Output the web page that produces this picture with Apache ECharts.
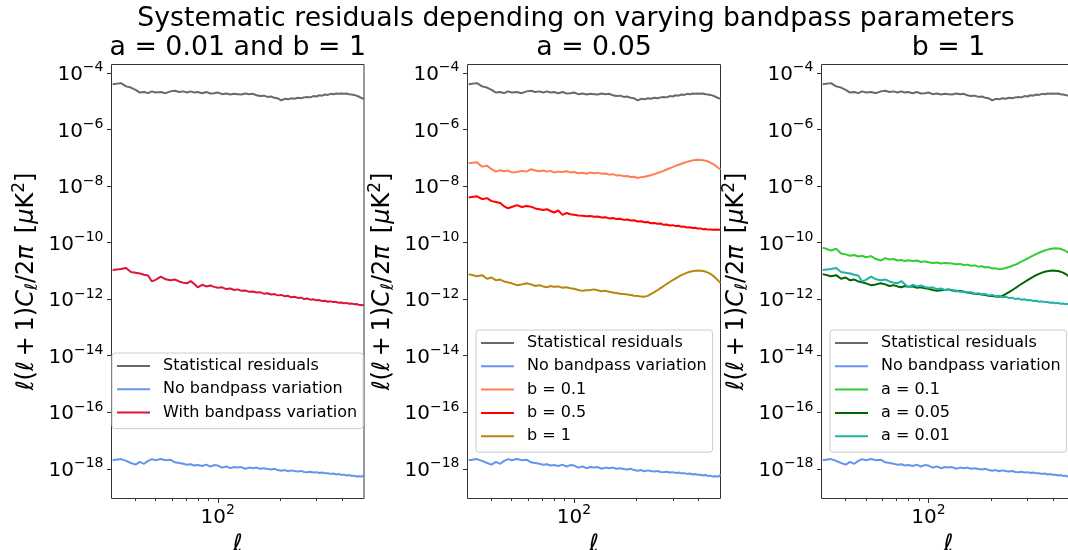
<!DOCTYPE html>
<html>
<head>
<meta charset="utf-8">
<script src="https://cdn.jsdelivr.net/npm/echarts@6/dist/echarts.min.js"></script>
<style>
html,body{margin:0;padding:0;background:#fff;}
#c{width:1068px;height:550px;}
</style>
</head>
<body>
<div id="c"></div>
<script>
// multipole values
const ELL = [31,34,36,38,40,42,44,46,48,50,53,56,59,62,65,68,71,74,77,80,84,88,92,96,100,105,110,115,120,125,130,136,142,148,154,160,167,174,181,188,195,203,211,219,227,235,244,253,262,271,280,290,300,310,320,330,341,352,363,374,385,396,408,420,432,444,456,468,480,490,500,510];

const STAT = [3.9e-5,4.3e-5,3.3e-5,3.0e-5,2.5e-5,2.0e-5,2.1e-5,1.9e-5,2.2e-5,2.0e-5,
2.1e-5,1.9e-5,2.2e-5,2.3e-5,2.1e-5,2.2e-5,2.0e-5,2.2e-5,2.0e-5,2.1e-5,
1.9e-5,2.1e-5,1.85e-5,1.9e-5,2.0e-5,
1.75e-5,1.85e-5,1.7e-5,1.8e-5,1.75e-5,1.7e-5,
1.85e-5,1.75e-5,1.8e-5,1.6e-5,1.5e-5,
1.55e-5,1.4e-5,1.45e-5,1.3e-5,1.25e-5,
1.05e-5,1.2e-5,1.15e-5,1.25e-5,1.2e-5,
1.3e-5,1.25e-5,1.35e-5,1.4e-5,1.35e-5,
1.5e-5,1.45e-5,1.6e-5,1.55e-5,1.7e-5,
1.65e-5,1.8e-5,1.75e-5,1.85e-5,1.8e-5,1.85e-5,
1.8e-5,1.85e-5,1.75e-5,1.7e-5,1.65e-5,1.55e-5,1.45e-5,
1.35e-5,1.25e-5,1.2e-5];

const NOBP = [2.0e-18,2.2e-18,1.9e-18,1.6e-18,1.4e-18,1.75e-18,1.5e-18,1.9e-18,2.2e-18,2.0e-18,
2.2e-18,2.0e-18,2.1e-18,1.7e-18,1.6e-18,1.5e-18,1.4e-18,1.45e-18,1.3e-18,1.35e-18,
1.25e-18,1.4e-18,1.2e-18,1.35e-18,1.3e-18,
1.1e-18,1.2e-18,1.05e-18,1.15e-18,1.1e-18,1.15e-18,
1.0e-18,1.1e-18,1.05e-18,1.1e-18,1.0e-18,
1.05e-18,9.8e-19,9.5e-19,1.0e-18,9.0e-19,
8.5e-19,9.0e-19,8.2e-19,8.8e-19,8.3e-19,
8.0e-19,8.4e-19,7.7e-19,7.6e-19,7.9e-19,
7.4e-19,7.6e-19,7.1e-19,7.4e-19,6.9e-19,
7.0e-19,6.6e-19,6.8e-19,6.3e-19,6.5e-19,6.1e-19,
6.2e-19,5.8e-19,6.0e-19,5.6e-19,5.7e-19,5.3e-19,5.4e-19,
5.1e-19,5.3e-19,6.2e-19];

// a = 0.01, b = 1
const A001_B1 = [1.07e-11,1.15e-11,1.25e-11,9.0e-12,8.5e-12,8.0e-12,7.2e-12,6.8e-12,4.2e-12,4.8e-12,
6.2e-12,5.0e-12,4.6e-12,4.9e-12,4.2e-12,3.8e-12,3.6e-12,4.3e-12,3.4e-12,2.6e-12,
3.2e-12,2.8e-12,3.0e-12,2.7e-12,2.5e-12,
2.6e-12,2.25e-12,2.35e-12,2.1e-12,2.2e-12,1.95e-12,
2.0e-12,1.8e-12,1.85e-12,1.7e-12,1.75e-12,
1.55e-12,1.6e-12,1.45e-12,1.5e-12,1.35e-12,
1.4e-12,1.25e-12,1.3e-12,1.15e-12,1.2e-12,
1.1e-12,1.12e-12,1.0e-12,1.05e-12,9.5e-13,
9.8e-13,9.0e-13,9.2e-13,8.5e-13,8.7e-13,
8.0e-13,8.3e-13,7.8e-13,7.9e-13,7.4e-13,7.6e-13,
7.1e-13,7.3e-13,6.8e-13,7.0e-13,6.6e-13,6.7e-13,6.3e-13,
6.5e-13,6.1e-13,6.3e-13];

// a = 0.05, b = 1
const A005_B1 = [7.6e-12,6.4e-12,7.0e-12,5.2e-12,5.8e-12,4.6e-12,4.9e-12,4.2e-12,3.9e-12,3.6e-12,
3.1e-12,3.3e-12,3.6e-12,3.3e-12,2.9e-12,3.1e-12,2.8e-12,2.6e-12,2.9e-12,2.7e-12,
2.8e-12,2.5e-12,2.6e-12,2.4e-12,2.3e-12,
2.1e-12,1.95e-12,2.05e-12,2.1e-12,2.2e-12,2.05e-12,
1.9e-12,1.95e-12,1.8e-12,1.7e-12,1.65e-12,
1.55e-12,1.5e-12,1.45e-12,1.4e-12,1.32e-12,
1.28e-12,1.22e-12,1.2e-12,1.3e-12,1.5e-12,
1.75e-12,2.05e-12,2.45e-12,2.9e-12,3.4e-12,
4.0e-12,4.7e-12,5.4e-12,6.2e-12,7.0e-12,
7.8e-12,8.6e-12,9.2e-12,9.7e-12,1.0e-11,1.02e-11,
1.01e-11,9.8e-12,9.3e-12,8.6e-12,7.8e-12,6.8e-12,5.8e-12,
5.0e-12,4.3e-12,3.8e-12];

// a = 0.05, b = 0.1
const A005_B01 = [6.3e-8,6.8e-8,4.8e-8,5.2e-8,3.9e-8,3.2e-8,3.6e-8,3.3e-8,3.5e-8,3.0e-8,
3.1e-8,3.4e-8,3.2e-8,3.9e-8,3.5e-8,3.3e-8,3.5e-8,3.2e-8,3.4e-8,3.0e-8,
3.2e-8,3.1e-8,3.3e-8,3.0e-8,3.1e-8,
2.8e-8,2.9e-8,2.7e-8,3.0e-8,2.8e-8,2.95e-8,
2.7e-8,2.75e-8,2.5e-8,2.6e-8,2.35e-8,
2.4e-8,2.2e-8,2.25e-8,2.05e-8,2.1e-8,
1.9e-8,2.05e-8,2.1e-8,2.25e-8,2.4e-8,
2.6e-8,2.85e-8,3.1e-8,3.4e-8,3.8e-8,
4.2e-8,4.6e-8,5.1e-8,5.6e-8,6.1e-8,
6.6e-8,7.1e-8,7.6e-8,8.0e-8,8.25e-8,8.35e-8,
8.3e-8,8.1e-8,7.8e-8,7.3e-8,6.7e-8,6.0e-8,5.3e-8,
4.7e-8,4.2e-8,3.8e-8];

// a = 0.05, b = 0.5
const A005_B05 = [3.9e-9,4.3e-9,3.4e-9,3.7e-9,2.9e-9,2.7e-9,2.5e-9,1.9e-9,1.6e-9,1.8e-9,
2.1e-9,1.8e-9,1.95e-9,1.85e-9,1.6e-9,1.5e-9,1.4e-9,1.5e-9,1.3e-9,1.15e-9,
1.35e-9,9.5e-10,1.1e-9,1.0e-9,9.6e-10,
9.0e-10,8.8e-10,8.4e-10,8.6e-10,8.1e-10,8.3e-10,
7.6e-10,7.8e-10,7.1e-10,7.3e-10,6.8e-10,
6.9e-10,6.3e-10,6.5e-10,6.0e-10,6.1e-10,
5.5e-10,5.6e-10,5.2e-10,5.3e-10,4.8e-10,
4.9e-10,4.6e-10,4.7e-10,4.2e-10,4.3e-10,
4.0e-10,4.1e-10,3.8e-10,3.9e-10,3.6e-10,
3.65e-10,3.4e-10,3.45e-10,3.25e-10,3.3e-10,3.1e-10,
3.15e-10,2.95e-10,3.0e-10,2.85e-10,2.9e-10,2.8e-10,2.85e-10,
2.7e-10,2.8e-10,2.75e-10];

// a = 0.1, b = 1
const A01_B1 = [6.6e-11,5.2e-11,6.0e-11,4.1e-11,3.8e-11,3.4e-11,3.6e-11,3.2e-11,3.4e-11,3.0e-11,
3.3e-11,2.6e-11,2.3e-11,2.8e-11,2.5e-11,2.6e-11,2.3e-11,2.4e-11,2.2e-11,2.35e-11,
2.2e-11,2.3e-11,2.05e-11,2.15e-11,2.0e-11,
1.9e-11,1.95e-11,1.8e-11,1.9e-11,1.85e-11,1.8e-11,
1.7e-11,1.75e-11,1.6e-11,1.65e-11,1.5e-11,
1.55e-11,1.4e-11,1.45e-11,1.3e-11,1.35e-11,
1.2e-11,1.22e-11,1.12e-11,1.18e-11,1.25e-11,
1.35e-11,1.5e-11,1.65e-11,1.85e-11,2.1e-11,
2.4e-11,2.75e-11,3.1e-11,3.5e-11,3.9e-11,
4.35e-11,4.8e-11,5.2e-11,5.6e-11,5.9e-11,6.1e-11,
6.2e-11,6.15e-11,6.0e-11,5.5e-11,5.1e-11,4.5e-11,3.9e-11,
3.5e-11,3.2e-11,2.9e-11];

const Y_TICKS = [1e-18,1e-16,1e-14,1e-12,1e-10,1e-8,1e-6,1e-4];
const X_MAJOR = [100];
const X_MINOR = [40,50,60,70,80,90,200,300,400];
const SUPTITLE = 'Systematic residuals depending on varying bandpass parameters';
const SUBTITLES = ['a = 0.01 and b = 1', 'a = 0.05', 'b = 1'];

const PANELS = [
  [['Statistical residuals', STAT, '#696969'],
   ['No bandpass variation', NOBP, '#6495ED'],
   ['With bandpass variation', A001_B1, '#DC143C']],
  [['Statistical residuals', STAT, '#696969'],
   ['No bandpass variation', NOBP, '#6495ED'],
   ['b = 0.1', A005_B01, '#FF7F50'],
   ['b = 0.5', A005_B05, '#FF0000'],
   ['b = 1', A005_B1, '#B8860B']],
  [['Statistical residuals', STAT, '#696969'],
   ['No bandpass variation', NOBP, '#6495ED'],
   ['a = 0.1', A01_B1, '#32CD32'],
   ['a = 0.05', A005_B1, '#006400'],
   ['a = 0.01', A001_B1, '#20B2AA']]
];

const FONT = 'DejaVu Sans';
const XMIN = 30.6, XMAX = 510;
const YMIN = 8.9e-20, YMAX = 1.96e-4;
const G = [{left:111.5, width:252.5}, {left:467.5, width:253}, {left:821.5, width:254}];
const TOP = 64.5, H = 434;
const LEG = [{left:112, top:353}, {left:476, top:330}, {left:830, top:330}];
const AX = '#333';

function powLabel(v){
  const e = Math.round(Math.log10(v));
  return '{b|10}{s|' + (e < 0 ? '\u2212' : '') + Math.abs(e) + '}';
}
const tickRich = {
  b: {fontFamily: FONT, fontSize: 20, color: '#000', lineHeight: 24, padding: [4,0,0,0]},
  s: {fontFamily: FONT, fontSize: 14, color: '#000', lineHeight: 16, verticalAlign: 'top'}
};
const nameRich = {
  i: {fontFamily: FONT, fontSize: 24, fontStyle: 'italic', color: '#000', lineHeight: 30},
  r: {fontFamily: FONT, fontSize: 24, color: '#000', lineHeight: 30},
  sub: {fontFamily: FONT, fontSize: 17, fontStyle: 'italic', color: '#000', lineHeight: 17, verticalAlign: 'bottom'},
  sup: {fontFamily: FONT, fontSize: 17, color: '#000', lineHeight: 17, verticalAlign: 'top'}
};
const YNAME = '{i|\u2113}{r|(}{i|\u2113}{r|\u2009+\u20091)}{i|C}{sub|\u2113}{r|/2}{i|\u03c0}{r|\u2002[}{i|\u03bc}{r|K}{sup|2}{r|]}';

const grid = [], xAxis = [], yAxis = [], series = [], legend = [], graphic = [];
G.forEach((g, p) => {
  grid.push({left: g.left, top: TOP, width: g.width, height: H, show: true,
    borderColor: AX, borderWidth: 1, backgroundColor: 'transparent',
    containLabel: false, outerBoundsMode: 'none'});
});
G.forEach((g, p) => {
  grid.push({left: g.left, top: TOP, width: g.width, height: H, show: false,
    containLabel: false, outerBoundsMode: 'none'});
});
G.forEach((g, p) => {
  xAxis.push({type: 'log', logBase: 10, gridIndex: p, min: XMIN, max: XMAX,
    axisLine: {show: false}, splitLine: {show: false},
    axisTick: {show: true, length: 4.5, customValues: X_MAJOR, lineStyle: {color: AX, width: 1}},
    axisLabel: {show: true, customValues: X_MAJOR, formatter: powLabel, margin: 5, rich: tickRich},
    name: '\u2113', nameLocation: 'middle', nameGap: 31,
    nameTextStyle: {fontFamily: FONT, fontSize: 24, fontStyle: 'italic', color: '#000', lineHeight: 24}
  });
  yAxis.push({type: 'log', logBase: 10, gridIndex: p, min: YMIN, max: YMAX,
    axisLine: {show: false}, splitLine: {show: false},
    axisTick: {show: true, length: 4.5, customValues: Y_TICKS, lineStyle: {color: AX, width: 1}},
    axisLabel: {show: true, customValues: Y_TICKS, formatter: powLabel, margin: 8, rich: tickRich},
    name: YNAME, nameLocation: 'middle', nameGap: 70, nameRotate: 90,
    nameTextStyle: {fontFamily: FONT, fontSize: 24, color: '#000', lineHeight: 30, rich: nameRich}
  });
});
G.forEach((g, p) => {
  xAxis.push({type: 'log', logBase: 10, gridIndex: 3 + p, min: XMIN, max: XMAX,
    axisLine: {show: false}, splitLine: {show: false}, axisLabel: {show: false},
    axisTick: {show: true, length: 2.5, customValues: X_MINOR, lineStyle: {color: AX, width: 1}}
  });
  yAxis.push({type: 'value', gridIndex: 3 + p, show: false, min: 0, max: 1});
});

PANELS.forEach((list, p) => {
  list.forEach(([name, vals, color]) => {
    series.push({
      type: 'line', name: name, xAxisIndex: p, yAxisIndex: p,
      data: ELL.map((l, i) => [l, vals[i]]),
      showSymbol: false, symbol: 'none', smooth: false, clip: true,
      lineStyle: {color: color, width: 2}, itemStyle: {color: color},
      emphasis: {disabled: true}, animation: false
    });
  });
  legend.push({
    left: LEG[p].left, top: LEG[p].top, orient: 'vertical',
    data: list.map(s => s[0]), icon: 'rect', itemWidth: 33, itemHeight: 2, itemGap: 3.3,
    selectedMode: false, padding: [3, 6, 6, 5],
    backgroundColor: 'rgba(255,255,255,0.8)', borderColor: '#cccccc', borderWidth: 1, borderRadius: 3,
    textStyle: {fontFamily: FONT, fontSize: 16, color: '#000', lineHeight: 20, padding: [0, 0, 0, 8]}
  });
  graphic.push({type: 'text', x: G[p].left + G[p].width / 2, y: 48, silent: true,
    style: {text: SUBTITLES[p], fontFamily: FONT, fontSize: 26.8, fill: '#000',
      align: 'center', verticalAlign: 'middle', textAlign: 'center', textVerticalAlign: 'middle'}});
});
graphic.push({type: 'text', x: 576, y: 18.8, silent: true,
  style: {text: SUPTITLE, fontFamily: FONT, fontSize: 26.7, fill: '#000',
    align: 'center', verticalAlign: 'middle', textAlign: 'center', textVerticalAlign: 'middle'}});

const chart = echarts.init(document.getElementById('c'), null, {renderer: 'canvas'});
chart.setOption({
  animation: false,
  backgroundColor: '#ffffff',
  textStyle: {fontFamily: FONT},
  grid, xAxis, yAxis, series, legend, graphic
});
</script>
</body>
</html>
